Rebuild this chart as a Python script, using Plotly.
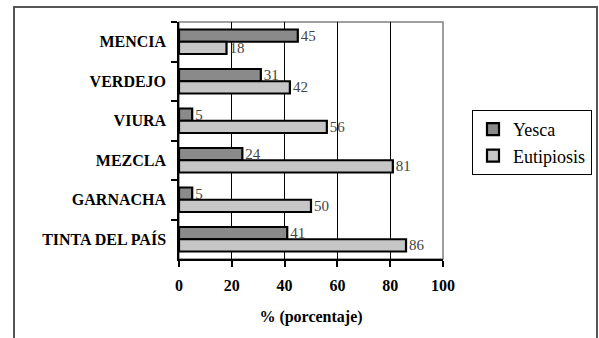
import plotly.graph_objects as go

categories = ["MENCIA", "VERDEJO", "VIURA", "MEZCLA", "GARNACHA", "TINTA DEL PAÍS"]
yesca = [45, 31, 5, 24, 5, 41]
eutipiosis = [18, 42, 56, 81, 50, 86]
x_ticks = [0, 20, 40, 60, 80, 100]

SERIF = "'Liberation Serif', 'DejaVu Serif', 'Times New Roman', Times, serif"

fig = go.Figure()
fig.add_trace(go.Bar(
    name="Yesca", y=categories, x=yesca, orientation="h",
    marker=dict(color="#8a8a8a", line=dict(color="black", width=2.2)),
    text=[str(v) for v in yesca], textposition="outside", cliponaxis=False,
    constraintext="none",
    textfont=dict(family=SERIF, size=15, color="#444444"),
))
fig.add_trace(go.Bar(
    name="Eutipiosis", y=categories, x=eutipiosis, orientation="h",
    marker=dict(color="#c6c6c6", line=dict(color="black", width=2.2)),
    text=[str(v) for v in eutipiosis], textposition="outside", cliponaxis=False,
    constraintext="none",
    textfont=dict(family=SERIF, size=15, color="#444444"),
))

L, R, T, B = 179, 156, 22, 79
W = 599 - L - R
H = 338 - T - B

def px_x(p):
    return (p - L) / W

def px_y(p):
    return (338 - B - p) / H

fig.update_layout(
    width=599, height=338,
    margin=dict(l=L, r=R, t=T, b=B, pad=0, autoexpand=False),
    paper_bgcolor="white", plot_bgcolor="white",
    barmode="group", bargap=0.38, bargroupgap=0,
    font=dict(family=SERIF, color="black"),
    showlegend=True,
    legend=dict(
        xref="container", yref="container",
        x=472 / 599, y=1 - 110 / 338, xanchor="left", yanchor="top",
        bordercolor="black", borderwidth=1, bgcolor="white",
        font=dict(family=SERIF, size=18, color="black"),
        traceorder="normal", itemwidth=30,
    ),
    xaxis=dict(
        range=[0, 100], tickvals=x_ticks, ticktext=[str(v) for v in x_ticks],
        showgrid=True, gridcolor="black", gridwidth=1,
        showline=True, linecolor="black", linewidth=1.5,
        ticks="outside", ticklen=6, tickcolor="black", tickwidth=1.5,
        tickfont=dict(family=SERIF, size=16, color="black", weight="bold"),
        ticklabelstandoff=5,
        title=dict(text="<b>% (porcentaje)</b>", font=dict(family=SERIF, size=16, color="black"), standoff=18),
        zeroline=False, fixedrange=True, automargin=False,
    ),
    yaxis=dict(
        autorange="reversed", type="category",
        showline=True, linecolor="black", linewidth=1.5,
        ticks="outside", ticklen=6, tickcolor="black", tickwidth=1.5,
        tickson="boundaries", showgrid=False,
        tickfont=dict(family=SERIF, size=16, color="black", weight="bold"),
        ticklabelstandoff=8,
        fixedrange=True, automargin=False,
    ),
    shapes=[
        dict(type="rect", xref="paper", yref="paper", x0=0, x1=1, y0=0, y1=1,
             line=dict(color="#808080", width=1.5), layer="below"),
        dict(type="rect", xref="paper", yref="paper",
             x0=px_x(14), x1=px_x(597), y0=px_y(345), y1=px_y(7),
             line=dict(color="#555555", width=2), layer="below"),
    ],
)

fig.write_html("out.html")
